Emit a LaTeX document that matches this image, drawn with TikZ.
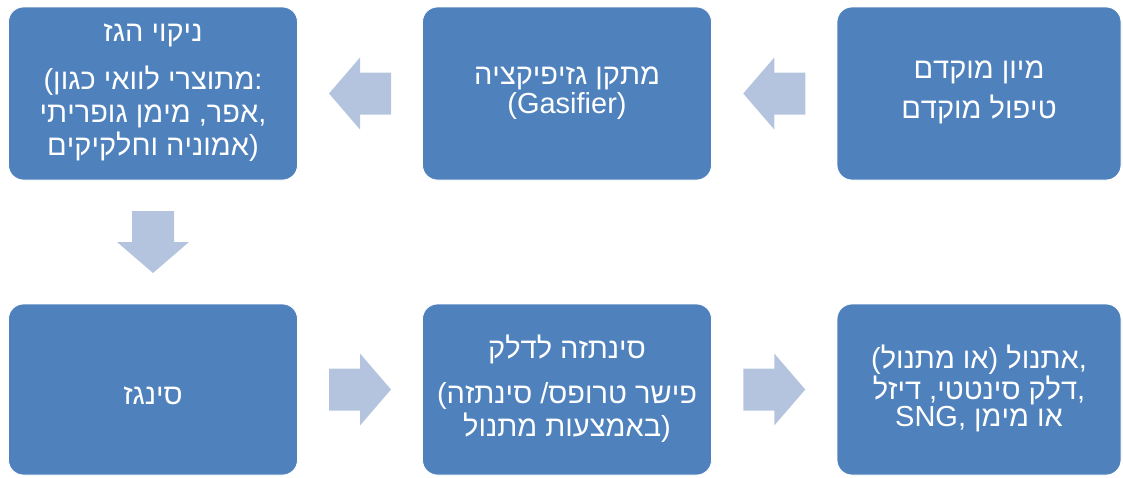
\documentclass[tikz,border=0pt]{standalone}
\usepackage{fontspec}
\setmainfont{Liberation Sans}
\usetikzlibrary{positioning,calc}
\TeXXeTstate=1
\newcommand{\rtl}[1]{\beginR #1\endR}
\definecolor{boxblue}{RGB}{79,129,189}
\definecolor{arrowblue}{RGB}{180,196,222}

\begin{document}
\begin{tikzpicture}[x=1pt, y=1pt,
    stagebox/.style={rectangle, rounded corners=15pt, fill=boxblue, draw=white, line width=0.8pt,
      text=white, minimum width=289pt, minimum height=173pt, inner sep=0pt, align=center,
      font=\fontsize{29}{33}\selectfont,
      execute at begin node={\rule{0pt}{45pt}}, execute at end node={\rule[-7pt]{0pt}{0pt}}},
    flowarrow/.style={fill=arrowblue},
    node distance=414pt, on grid]
  \useasboundingbox (0,0) rectangle (1123,-477);
  % top row
  \node[stagebox] (clean) at (153,-93.5) {\rtl{ניקוי הגז}\\[15pt]
    (\rtl{מתוצרי לוואי כגון}:\\
    \rtl{אפר, מימן גופריתי},\\
    \rtl{אמוניה וחלקיקים})};
  \node[stagebox] (gasifier) [right=of clean] {\rtl{מתקן גזיפיקציה}\\[-4pt](Gasifier)};
  \node[stagebox, minimum width=284pt] (sorting) [right=412pt of gasifier]
    {\rtl{מיון מוקדם}\\[7pt]\rtl{טיפול מוקדם}};
  % bottom row
  \node[stagebox, minimum height=171pt] (syngas) [below=296pt of clean] {\raisebox{4pt}{\rtl{סינגז}}};
  \node[stagebox, minimum height=171pt] (synthesis) [right=of syngas] {\rtl{סינתזה לדלק}\\[12pt]
    (\rtl{פישר טרופס/ סינתזה}\\
    \rtl{באמצעות מתנול})};
  \node[stagebox, minimum width=284pt, minimum height=171pt] (fuels) [right=412pt of synthesis]
    {\rtl{אתנול (או מתנול)},\\[-2pt]
    \rtl{דלק סינטטי, דיזל},\\[-6pt]
    SNG, \rtl{או מימן}};
  % block arrows between the boxes
  \coordinate (s2g) at ($(sorting.west)!0.5!(gasifier.east)$);
  \coordinate (g2c) at ($(gasifier.west)!0.5!(clean.east)$);
  \coordinate (c2y) at ($(clean.south)!0.5!(syngas.north)$);
  \coordinate (y2s) at ($(syngas.east)!0.5!(synthesis.west)$);
  \coordinate (s2f) at ($(synthesis.east)!0.5!(fuels.west)$);
  \foreach \c/\r in {s2g/180, g2c/180, c2y/-90, y2s/0, s2f/0}
    \fill[flowarrow, shift={(\c)}, rotate=\r] (-31,-21) -- (0,-21) -- (0,-36) -- (31,0)
      -- (0,36) -- (0,21) -- (-31,21) -- cycle;
\end{tikzpicture}
\end{document}
